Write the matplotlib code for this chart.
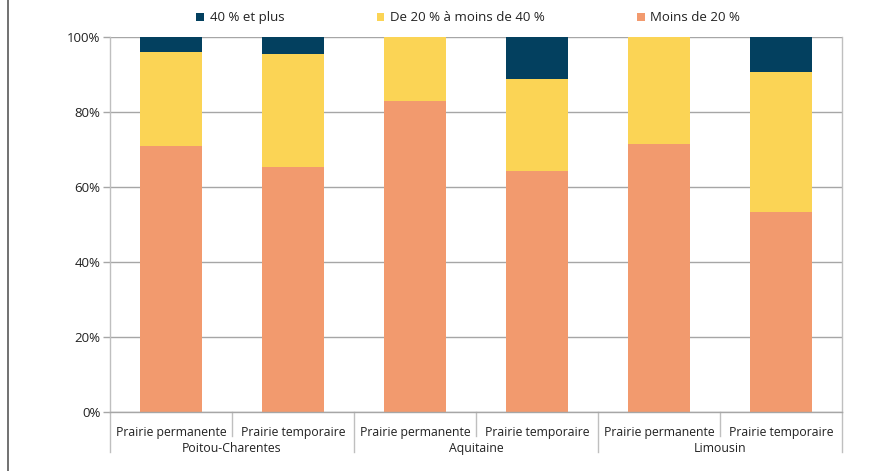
import matplotlib
matplotlib.use("Agg")
import matplotlib.pyplot as plt
from matplotlib.lines import Line2D
from matplotlib.patches import Patch
import numpy as np

plt.rcParams['font.family'] = ['Open Sans', 'DejaVu Sans']

regions = ["Poitou-Charentes", "Aquitaine", "Limousin"]
types = ["Prairie permanente", "Prairie temporaire"]
series_names = ["40 % et plus", "De 20 % à moins de 40 %", "Moins de 20 %"]

# Shares (%) per bar, ordered region by region, permanent then temporary
moins_20 = [70.9, 65.3, 82.9, 64.3, 71.5, 53.3]
de_20_a_40 = [25.1, 30.2, 17.1, 24.5, 28.5, 37.4]
plus_40 = [4.0, 4.5, 0.0, 11.2, 0.0, 9.3]

colors = {"40 % et plus": "#03405f",
          "De 20 % à moins de 40 %": "#fbd455",
          "Moins de 20 %": "#f29a6e"}

fig = plt.figure(figsize=(8.8, 4.71), dpi=100)
ax = fig.add_axes([110 / 880, 1 - 412 / 471, 732 / 880, 375 / 471])

x = np.arange(len(moins_20))
w = 0.51
b1 = np.array(moins_20)
b2 = b1 + np.array(de_20_a_40)
ax.bar(x, moins_20, w, color=colors["Moins de 20 %"], zorder=2)
ax.bar(x, de_20_a_40, w, bottom=b1, color=colors["De 20 % à moins de 40 %"], zorder=2)
ax.bar(x, plus_40, w, bottom=b2, color=colors["40 % et plus"], zorder=2)

ax.set_xlim(-0.5, len(x) - 0.5)
ax.set_ylim(0, 100)
ax.set_yticks(np.arange(0, 101, 20))
ax.set_yticklabels([f"{v}%" for v in range(0, 101, 20)])
ax.yaxis.grid(True, color="#a6a6a6", linewidth=1.0, zorder=0)
ax.set_axisbelow(True)
ax.tick_params(axis='y', length=5, width=1, color="#a6a6a6", labelsize=9.5,
               labelcolor="#222222", pad=2)
ax.set_xticks([])
ax.spines["top"].set_visible(False)
for s in ["left", "bottom", "right"]:
    ax.spines[s].set_color("#bfbfbf")
    ax.spines[s].set_linewidth(1.0)
ax.spines["bottom"].set_color("#a6a6a6")

# Two-level category axis
trans = ax.get_xaxis_transform()
for i in range(len(x)):
    ax.text(x[i], -0.055, types[i % 2], transform=trans, ha="center", va="center",
            fontsize=8.8, color="#222222")
for g, name in enumerate(regions):
    ax.text(2 * g + 0.5, -0.098, name, transform=trans, ha="center", va="center",
            fontsize=8.8, color="#222222")
for k in range(len(x) + 1):
    xb = k - 0.5
    y_end = -0.107 if k % 2 == 0 else -0.064
    ax.add_line(Line2D([xb, xb], [0, y_end], transform=trans, color="#bfbfbf",
                       linewidth=1.0, clip_on=False))

handles = [Patch(facecolor=colors[n], edgecolor="none", label=n) for n in series_names]
fig.legend(handles=handles, loc="center", bbox_to_anchor=(0.532, 0.962), ncol=3,
           frameon=False, fontsize=9.5, handlelength=0.6, handleheight=0.6,
           handletextpad=0.4, columnspacing=7.0, labelcolor="#222222")

# Outer frame edge
fig.add_artist(Line2D([8 / 880, 8 / 880], [0, 1], transform=fig.transFigure,
                      color="#595959", linewidth=1.2))

fig.savefig("out.png", dpi=100)
